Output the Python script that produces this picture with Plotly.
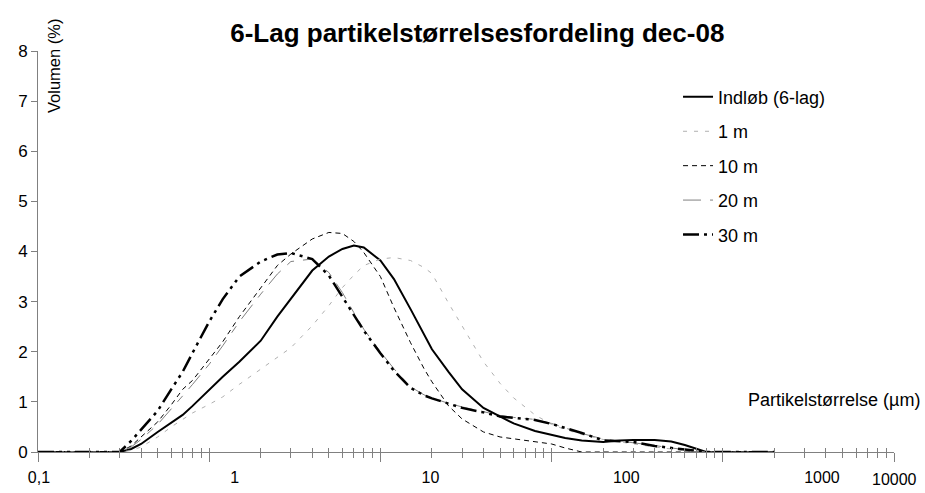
import plotly.graph_objects as go

# particle size (µm)
sizes = [0.1, 0.15, 0.2, 0.25, 0.3, 0.35, 0.4, 0.5, 0.6, 0.7, 0.8, 1.0, 1.2, 1.5, 2.0, 2.5,
         3.0, 4.0, 5.0, 6.0, 7.0, 8.0, 10, 12, 15, 18, 20, 25, 30, 40, 50, 60, 80, 100,
         120, 150, 200, 250, 300, 400, 500, 600, 700, 800, 1000, 1500, 2000]

indlob = [0, 0, 0, 0, 0, 0.06, 0.16, 0.4, 0.58, 0.74, 0.92, 1.25, 1.5, 1.8, 2.22, 2.7,
          3.05, 3.62, 3.9, 4.05, 4.12, 4.08, 3.82, 3.45, 2.85, 2.35, 2.05, 1.6, 1.25, 0.88, 0.7, 0.57, 0.42, 0.34,
          0.28, 0.23, 0.2, 0.23, 0.24, 0.24, 0.21, 0.14, 0.07, 0, 0, 0, 0]

m1 = [0, 0, 0, 0, 0, 0.03, 0.1, 0.3, 0.5, 0.65, 0.78, 0.95, 1.1, 1.35, 1.65, 1.88,
      2.08, 2.52, 2.92, 3.28, 3.53, 3.72, 3.85, 3.88, 3.82, 3.68, 3.56, 2.97, 2.52, 1.8, 1.37, 1.08, 0.74, 0.55,
      0.45, 0.35, 0.25, 0.2, 0.17, 0.1, 0.06, 0.03, 0, 0, 0, 0, 0]

m10 = [0, 0, 0, 0, 0, 0.12, 0.3, 0.6, 0.94, 1.25, 1.43, 1.85, 2.2, 2.7, 3.28, 3.72,
       3.95, 4.25, 4.38, 4.36, 4.2, 3.98, 3.5, 2.88, 2.18, 1.66, 1.4, 0.92, 0.66, 0.4, 0.3, 0.26, 0.21, 0.16,
       0.08, 0, 0, 0, 0, 0, 0, 0, 0, 0, 0, 0, 0]

m20 = [0, 0, 0, 0, 0, 0.1, 0.25, 0.55, 0.85, 1.12, 1.35, 1.75, 2.12, 2.6, 3.15, 3.55,
       3.8, 3.85, 3.58, 3.18, 2.78, 2.45, 2.0, 1.66, 1.3, 1.14, 1.08, 0.97, 0.9, 0.8, 0.73, 0.69, 0.65, 0.57,
       0.48, 0.37, 0.26, 0.22, 0.19, 0.13, 0.08, 0.05, 0.02, 0, 0, 0, 0]

m30 = [0, 0, 0, 0, 0, 0.22, 0.45, 0.82, 1.25, 1.6, 1.98, 2.6, 3.05, 3.5, 3.8, 3.94,
       3.97, 3.85, 3.52, 3.1, 2.72, 2.42, 1.97, 1.62, 1.28, 1.13, 1.07, 0.96, 0.88, 0.79, 0.71, 0.68, 0.64, 0.56,
       0.48, 0.38, 0.23, 0.22, 0.2, 0.12, 0.08, 0.06, 0.03, 0, 0, 0, 0]

series_names = ["Indløb (6-lag)", "1 m", "10 m", "20 m", "30 m"]
major_vals = [0.1, 1, 10, 100, 1000, 10000]
label_vals = [0.1, 1, 10, 100, 1000]
label_text = ["0,1", "1", "10", "100", "1000"]
last_label = "10000"
y_ticks = [0, 1, 2, 3, 4, 5, 6, 7, 8]

minor_vals = [k * 10 ** e for e in range(-1, 4) for k in range(1, 10)] + [10000]

styles = [
    dict(color="black", width=2, dash="solid"),
    dict(color="#b0b0b0", width=1, dash="4px,7px"),
    dict(color="black", width=1, dash="5px,4px"),
    dict(color="#808080", width=1, dash="18px,9px,8px,9px"),
    dict(color="black", width=2.5, dash="16px,5px,3px,5px,3px,5px"),
]

fig = go.Figure()
for name, vals, st in zip(series_names, [indlob, m1, m10, m20, m30], styles):
    fig.add_trace(go.Scatter(x=sizes, y=vals, mode="lines", name=name, line=st,
                             legendgroup=name))

# transparent copies so the overlay axes (inner tick halves, label row) are drawn
for ax in ("x2", "x3"):
    fig.add_trace(go.Scatter(x=sizes, y=indlob, xaxis=ax, mode="lines", opacity=0,
                             showlegend=False, hoverinfo="skip"))

axis_gray = "#808080"
font_fam = "Liberation Sans, Arial, sans-serif"

fig.update_layout(
    width=925, height=493,
    margin=dict(l=38, r=31, t=51, b=41, autoexpand=False),
    paper_bgcolor="white", plot_bgcolor="white",
    font=dict(family=font_fam, size=17, color="black"),
    title=dict(text="<b>6-Lag partikelstørrelsesfordeling dec-08</b>", x=0.516, xanchor="center",
               y=1 - 33 / 493, yanchor="middle", font=dict(size=26)),
    xaxis=dict(type="log", range=[-1, 4], tickmode="array", tickvals=major_vals,
               showticklabels=False, automargin=False,
               ticks="outside", ticklen=9, tickcolor=axis_gray, showline=True, linecolor=axis_gray,
               linewidth=1, showgrid=False, zeroline=False,
               minor=dict(tickmode="array", tickvals=minor_vals, ticks="outside", ticklen=5,
                          tickcolor=axis_gray, showgrid=False)),
    xaxis2=dict(type="log", range=[-1, 4], overlaying="x", anchor="y", tickmode="array",
                tickvals=minor_vals, showticklabels=False, ticks="inside", ticklen=4,
                tickcolor=axis_gray, showline=False, showgrid=False, zeroline=False,
                automargin=False),
    xaxis3=dict(type="log", range=[-1.005, 3.368], overlaying="x", anchor="y", tickmode="array",
                tickvals=label_vals, ticktext=label_text, ticks="outside", ticklen=11,
                tickcolor="rgba(0,0,0,0)", showline=False, showgrid=False, zeroline=False,
                tickfont=dict(size=16), automargin=False),
    yaxis=dict(range=[0, 8], tickvals=y_ticks, ticks="outside", ticklen=6, tickcolor=axis_gray,
               showline=True, linecolor=axis_gray, linewidth=1, showgrid=False, zeroline=False,
               tickfont=dict(size=17), automargin=False),
    legend=dict(x=0.7477, y=0.931, xanchor="left", yanchor="top", bgcolor="rgba(0,0,0,0)",
                borderwidth=0, font=dict(size=18), tracegroupgap=8),
    showlegend=True,
)

fig.add_annotation(text=last_label, xref="x", yref="paper", x=4, y=0, xanchor="center",
                   yanchor="middle", yshift=-27, showarrow=False, font=dict(size=16))
fig.add_annotation(text="Volumen (%)", xref="paper", yref="paper", x=(54 - 38) / 856,
                   y=(452 - 66) / 401, xanchor="center", yanchor="middle", textangle=-90,
                   showarrow=False, font=dict(size=16.5))
fig.add_annotation(text="Partikelstørrelse (µm)", xref="paper", yref="paper", x=(746 - 38) / 856,
                   y=(452 - 400) / 401, xanchor="left", yanchor="middle", showarrow=False,
                   font=dict(size=18))

fig.write_html("out.html", config={"displayModeBar": False},
               post_script="document.body.style.margin='0px';")
